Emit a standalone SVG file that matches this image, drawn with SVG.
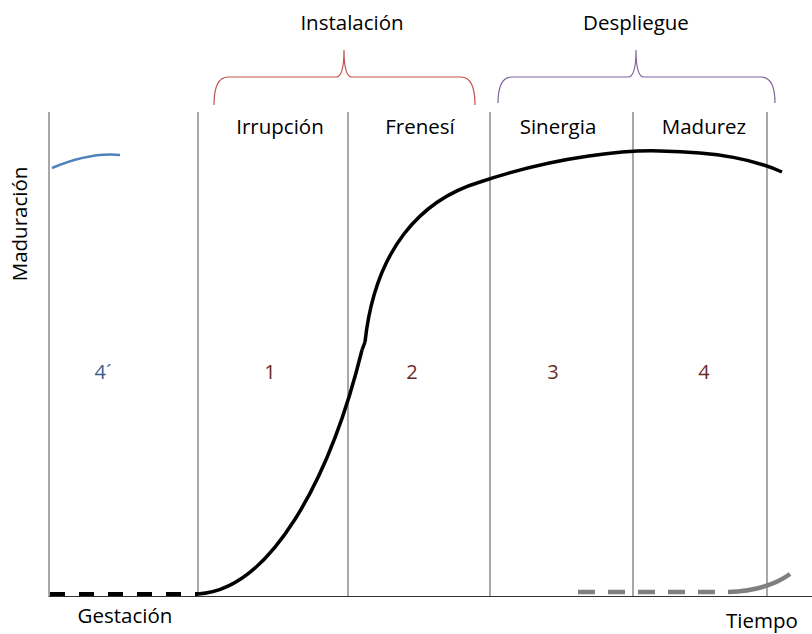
<svg xmlns="http://www.w3.org/2000/svg" width="812" height="634" viewBox="0 0 812 634">
<style>
text{font-family:"Open Sans","Liberation Sans",sans-serif;font-size:20.5px;fill:#000}
.num{font-size:20px;fill:#6b2b2b}
.grid{stroke:#6e6e6e;stroke-width:1.2;fill:none}
</style>
<rect width="812" height="634" fill="#fff"/>
<g id="axes">
<line class="grid" x1="49" y1="112" x2="49" y2="597"/>
<line class="grid" x1="198" y1="112" x2="198" y2="597"/>
<line class="grid" x1="348" y1="112" x2="348" y2="597"/>
<line class="grid" x1="490" y1="112" x2="490" y2="597"/>
<line class="grid" x1="633" y1="112" x2="633" y2="597"/>
<line class="grid" x1="767" y1="112" x2="767" y2="597"/>
<line x1="49" y1="596.5" x2="812" y2="596.5" stroke="#333" stroke-width="1.2"/>
</g>
<g id="braces" fill="none" stroke-width="1.2">
<path d="M214,105 Q214,77 228,77 L336,77 Q344,77 344,50 Q344,77 352,77 L461,77 Q475,77 475,105" stroke="#c0504d"/>
<path d="M498,103 Q498,77 512,77 L628,77 Q636,77 636,50 Q636,77 644,77 L761,77 Q775,77 775,103" stroke="#8064a2"/>
</g>
<g id="curves" fill="none">
<path d="M52,168 Q90,152 120,155" stroke="#4f81bd" stroke-width="2.5"/>
<line x1="50" y1="594" x2="198" y2="594" stroke="#000" stroke-width="4" stroke-dasharray="15,14"/>
<path d="M198,594 C270,590 330,480 362,350" stroke="#000" stroke-width="3.5"/>
<path d="M365,342 C375,250 420,200 480,182 C560,155 630,150 660,151 C720,152 755,160 782,172" stroke="#000" stroke-width="3.5"/>
<path d="M365,342 L362,350" stroke="#000" stroke-width="3.5"/>
<line x1="578" y1="592" x2="728" y2="592" stroke="#7f7f7f" stroke-width="4.5" stroke-dasharray="17,13"/>
<path d="M728,592 C755,591 775,585 790,574" stroke="#7f7f7f" stroke-width="4.5"/>
</g>
<g id="labels">
<text x="352" y="30" text-anchor="middle">Instalación</text>
<text x="636" y="30" text-anchor="middle">Despliegue</text>
<text x="280" y="134" text-anchor="middle">Irrupción</text>
<text x="420" y="134" text-anchor="middle">Frenesí</text>
<text x="558" y="134" text-anchor="middle">Sinergia</text>
<text x="704" y="134" text-anchor="middle">Madurez</text>
<text transform="translate(27,224) rotate(-90)" text-anchor="middle">Maduración</text>
<text x="125" y="623" text-anchor="middle">Gestación</text>
<text x="762" y="628" text-anchor="middle">Tiempo</text>
<text class="num" x="103" y="379" text-anchor="middle" style="fill:#3b5f8f">4´</text>
<text class="num" x="270" y="379" text-anchor="middle">1</text>
<text class="num" x="412" y="379" text-anchor="middle">2</text>
<text class="num" x="553" y="379" text-anchor="middle">3</text>
<text class="num" x="704" y="379" text-anchor="middle">4</text>
</g>
</svg>
